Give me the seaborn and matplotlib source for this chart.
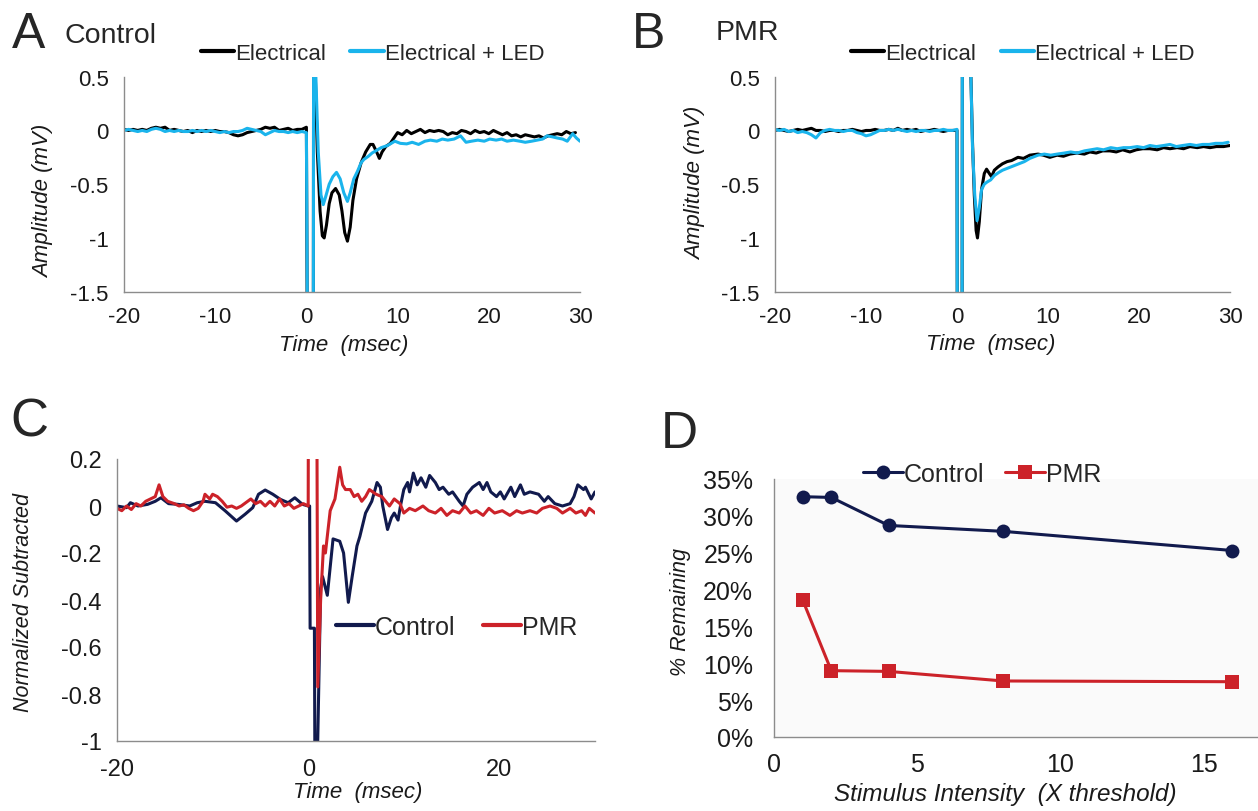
import matplotlib
matplotlib.use("Agg")
import matplotlib.pyplot as plt
import seaborn as sns
import pandas as pd
import numpy as np
from matplotlib.ticker import FuncFormatter

# ---------------- DATA ----------------
# Panel A (Control) - Electrical (black)
a_elec_t = [-20,-19.5,-19,-18.5,-18,-17.5,-17,-16.5,-16,-15.5,-15,-14.5,-14,-13.5,-13,-12.5,-12,-11.5,-11,-10.5,
            -10,-9.5,-9,-8.5,-8,-7.5,-7,-6.5,-6,-5.5,-5,-4.5,-4,-3.5,-3,-2.5,-2,-1.5,-1,-0.5,0,
            0.15,0.75,0.8,0.95,1.2,1.5,1.75,1.95,2.2,2.5,2.8,3.2,3.6,3.9,4.2,4.5,4.8,5.1,5.5,6.0,6.5,7.0,7.3,7.7,8.0,
            8.3,8.7,9.2,9.6,10.0,10.5,11.0,11.5,12.0,12.5,13.0,13.5,14.0,14.5,15.0,15.5,16.0,16.5,17.0,17.5,18.0,
            18.5,19.0,19.5,20.0,20.5,21.0,21.5,22.0,22.5,23.0,23.5,24.0,24.5,25.0,25.5,26.0,26.5,27.0,27.5,28.0,
            28.5,29.0,29.5]
a_elec_v = [0.01,0.0,0.01,0.0,0.01,0.0,0.02,0.03,0.02,0.03,0.0,0.01,0.0,-0.01,0.0,-0.02,0.0,-0.01,0.0,-0.01,
            0.0,-0.01,-0.01,-0.02,-0.04,-0.05,-0.04,-0.02,-0.01,0.0,0.01,0.03,0.02,0.03,0.0,0.01,0.02,0.0,0.01,0.01,0.03,
            -3.0,-3.0,2.0,0.6,-0.2,-0.75,-0.98,-1.0,-0.88,-0.68,-0.58,-0.54,-0.6,-0.75,-0.95,-1.03,-0.9,-0.65,-0.45,-0.3,-0.2,-0.13,-0.13,-0.2,-0.26,
            -0.2,-0.15,-0.12,-0.07,-0.02,-0.04,0.0,-0.03,-0.01,0.01,-0.02,0.0,-0.01,0.0,-0.01,-0.04,-0.02,-0.03,0.0,-0.01,-0.03,
            0.0,-0.02,-0.01,-0.03,0.0,-0.02,-0.04,-0.02,-0.05,-0.04,-0.06,-0.04,-0.05,-0.06,-0.05,-0.07,-0.05,-0.04,-0.03,-0.04,
            -0.01,-0.03,-0.02]
# Panel A (Control) - Electrical + LED (blue)
a_led_t = [-20,-19.5,-19,-18.5,-18,-17.5,-17,-16.5,-16,-15.5,-15,-14.5,-14,-13.5,-13,-12.5,-12,-11.5,-11,-10.5,
           -10,-9.5,-9,-8.5,-8,-7.5,-7,-6.5,-6,-5.5,-5,-4.5,-4,-3.5,-3,-2.5,-2,-1.5,-1,-0.5,0,
           0.18,0.75,0.8,1.0,1.3,1.6,1.85,2.1,2.5,2.9,3.3,3.7,4.1,4.5,4.8,5.2,5.6,6.0,6.3,6.8,7.2,7.6,8.2,8.9,9.7,
           10.3,11.0,11.6,12.3,13.0,13.6,14.3,14.9,15.5,16.2,16.9,17.5,18.1,18.8,19.5,20.1,20.8,21.4,22.0,22.7,
           23.4,24.0,24.7,25.3,25.9,26.4,27.0,27.5,28.1,28.6,29.2,29.6,30.0]
a_led_v = [0.0,0.01,0.0,-0.01,0.0,-0.01,0.01,0.02,0.01,-0.01,0.0,-0.01,0.0,-0.01,-0.01,0.0,-0.01,0.0,-0.01,0.0,
           -0.01,-0.02,-0.01,-0.02,-0.01,-0.01,0.0,0.02,0.01,0.0,-0.01,-0.04,-0.02,0.0,-0.01,-0.01,-0.02,-0.01,-0.02,-0.01,-0.02,
           -3.0,-3.0,2.0,0.6,-0.2,-0.6,-0.69,-0.62,-0.5,-0.43,-0.39,-0.45,-0.58,-0.66,-0.58,-0.45,-0.38,-0.3,-0.27,-0.24,-0.21,-0.19,-0.16,-0.14,-0.1,
           -0.12,-0.125,-0.11,-0.13,-0.1,-0.09,-0.1,-0.08,-0.09,-0.08,-0.05,-0.11,-0.1,-0.09,-0.1,-0.08,-0.09,-0.08,-0.1,-0.09,
           -0.1,-0.11,-0.1,-0.09,-0.08,-0.05,-0.06,-0.07,-0.08,-0.1,-0.03,-0.07,-0.1]

# Panel B (PMR) - Electrical (black)
b_base_t = [-20,-19.5,-19,-18.5,-18,-17.5,-17,-16.5,-16,-15.5,-15,-14.5,-14,-13.5,-13,-12.5,-12,-11.5,-11,-10.5,
            -10,-9.5,-9,-8.5,-8,-7.5,-7,-6.5,-6,-5.5,-5,-4.5,-4,-3.5,-3,-2.5,-2,-1.5,-1,-0.5,0]
b_elec_t = b_base_t + [0.05,0.55,0.6,1.3,1.5,1.7,1.9,2.1,2.25,2.45,2.7,3.0,3.25,3.55,3.8,4.1,4.5,5.0,5.5,6.0,6.7,7.3,8.0,
            8.9,9.5,10.2,11.0,11.7,12.4,13.2,14.0,14.6,15.3,16.0,16.8,17.5,18.2,19.0,19.7,20.4,21.2,22.0,22.7,23.4,
            24.2,24.9,25.6,26.4,27.1,27.8,28.5,29.3,30.0]
b_elec_v = [0.0,0.01,0.0,-0.01,0.0,0.01,0.0,0.01,0.02,0.0,0.0,-0.01,0.0,0.0,-0.01,0.0,0.0,0.01,0.0,-0.01,
            0.0,0.0,0.01,0.0,0.0,0.01,0.0,0.02,0.0,0.01,0.0,0.01,-0.01,0.0,0.0,0.01,0.0,-0.01,0.0,0.0,0.0,
            -3.0,-3.0,2.0,2.0,0.6,-0.1,-0.6,-0.93,-1.0,-0.85,-0.55,-0.4,-0.36,-0.4,-0.43,-0.37,-0.34,-0.31,-0.29,-0.28,-0.25,-0.26,-0.23,
            -0.22,-0.23,-0.25,-0.23,-0.24,-0.22,-0.21,-0.22,-0.2,-0.21,-0.19,-0.19,-0.2,-0.18,-0.2,-0.18,-0.17,-0.17,-0.18,-0.16,-0.17,
            -0.16,-0.17,-0.15,-0.16,-0.15,-0.16,-0.15,-0.15,-0.14]
# Panel B (PMR) - Electrical + LED (blue)
b_led_t = b_base_t + [0.05,0.55,0.6,1.3,1.5,1.7,1.95,2.2,2.45,2.7,3.0,3.3,3.7,4.1,4.6,5.0,5.6,6.2,6.8,7.4,8.0,8.9,9.6,
           10.3,11.0,11.8,12.5,13.2,14.0,14.7,15.4,16.1,16.9,17.6,18.3,19.0,19.8,20.5,21.2,21.9,22.7,23.4,24.1,
           24.8,25.6,26.3,27.0,27.7,28.4,29.2,29.8]
b_led_v = [0.01,0.0,0.01,-0.01,0.0,-0.02,-0.01,-0.02,-0.04,-0.07,-0.02,0.0,0.01,0.0,0.0,-0.01,0.0,0.0,-0.02,-0.03,
           -0.05,-0.04,-0.02,0.0,0.0,0.01,0.0,0.01,0.0,-0.01,0.0,-0.01,0.0,0.0,-0.01,0.0,0.0,0.01,0.0,0.0,0.01,
           -3.0,-3.0,2.0,2.0,0.6,-0.15,-0.6,-0.84,-0.72,-0.55,-0.5,-0.48,-0.46,-0.42,-0.39,-0.37,-0.35,-0.33,-0.31,-0.29,-0.26,-0.23,-0.22,
           -0.23,-0.22,-0.21,-0.2,-0.21,-0.19,-0.18,-0.17,-0.18,-0.16,-0.17,-0.16,-0.16,-0.15,-0.16,-0.14,-0.15,-0.14,-0.13,-0.15,
           -0.14,-0.13,-0.14,-0.13,-0.13,-0.12,-0.12,-0.11]

# Panel C - normalized subtracted
c_ctrl_t = [-20,-19.0,-18.6,-17.8,-16.8,-16.0,-15.4,-14.6,-13.6,-12.4,-11.6,-10.8,-9.7,-8.7,-7.5,-6.6,-5.8,-5.2,-4.5,-3.7,
            -2.9,-2.1,-1.4,-0.6,0.0,0.15,0.2,0.65,0.7,0.95,1.3,1.5,2.0,2.6,3.3,3.7,4.2,4.6,5.1,5.4,6.0,6.65,7.2,7.55,7.8,
            8.3,8.7,9.0,9.4,9.65,10.0,10.4,10.6,11.0,11.4,11.8,12.3,12.7,13.3,13.7,14.1,14.7,15.1,15.8,16.2,16.6,17.2,
            17.9,18.3,18.7,19.1,19.7,20.1,20.5,21.2,21.6,22.2,22.6,23.2,24.1,24.7,25.1,25.8,26.6,27.4,27.8,28.2,28.8,
            29.0,29.6,30.0]
c_ctrl_v = [0.0,-0.007,0.014,0.0,0.007,0.02,0.035,0.01,0.007,0.0,0.014,0.02,0.014,-0.02,-0.064,-0.035,-0.007,0.05,0.068,0.05,
            0.028,0.014,0.035,0.007,0.0,0.0,-0.52,-0.52,-1.1,-1.1,-0.35,-0.3,-0.38,-0.14,-0.15,-0.2,-0.41,-0.3,-0.17,-0.13,-0.03,0.02,0.1,0.08,0.0,
            -0.1,-0.05,-0.03,-0.06,0.0,0.07,0.1,0.06,0.14,0.09,0.12,0.08,0.13,0.1,0.07,0.08,0.05,0.06,0.02,0.0,0.05,0.08,
            0.1,0.07,0.1,0.06,0.04,0.06,0.03,0.08,0.04,0.09,0.05,0.06,0.05,0.02,0.04,0.01,0.0,0.01,0.04,0.09,0.07,
            0.08,0.03,0.06]
c_pmr_t = [-20,-19.5,-19,-18.5,-18,-17.5,-17,-16.5,-16,-15.6,-15.2,-14.7,-14,-13.5,-13,-12.5,-12,-11.5,-11,-10.8,
           -10.3,-10,-9.5,-9,-8.5,-8,-7.5,-7,-6.5,-6,-5.5,-5,-4.5,-4,-3.5,-3,-2.5,-2,-1.5,-1,-0.5,0,
           0.02,0.9,1.0,1.3,1.6,1.8,2.3,2.8,3.3,3.6,3.9,4.4,4.8,5.2,5.6,6.0,6.4,7.1,7.7,8.1,8.5,9.0,9.6,10.0,10.6,11.2,
           12.0,12.6,13.3,13.9,14.5,15.1,15.8,16.4,17.0,17.6,18.3,18.9,19.5,20.3,21.1,21.8,22.4,23.2,23.9,24.5,25.3,
           26.0,26.6,27.4,28.0,28.6,29.0,29.4,30.0]
c_pmr_v = [-0.01,-0.02,0.0,-0.015,0.01,0.0,0.02,0.03,0.04,0.09,0.04,0.02,0.01,0.0,0.005,-0.01,-0.02,-0.01,0.02,0.05,
           0.03,0.05,0.04,0.02,-0.005,0.0,-0.01,0.0,0.015,0.03,0.01,0.02,0.0,0.02,0.0,0.03,0.0,0.01,-0.01,0.0,0.01,0.0,
           0.5,0.5,-0.77,-0.4,-0.17,-0.2,-0.02,0.03,0.165,0.09,0.07,0.07,0.04,0.05,0.02,0.04,0.07,0.05,0.04,0.02,0.0,0.03,0.01,-0.03,-0.01,-0.02,
           0.0,-0.02,-0.03,-0.01,-0.04,-0.02,-0.03,0.0,-0.03,-0.02,-0.04,-0.01,-0.03,-0.02,-0.04,-0.02,-0.03,-0.02,-0.03,-0.01,0.0,
           -0.01,-0.03,-0.01,-0.03,-0.02,-0.04,-0.01,-0.03]

# Panel D - % remaining vs stimulus intensity
d_intensity = [1, 2, 4, 8, 16]
d_control = [32.6, 32.5, 28.7, 27.9, 25.3]
d_pmr = [18.6, 9.0, 8.9, 7.6, 7.5]

# ---------------- STYLE ----------------
sns.set_style("white")
plt.rcParams['font.family'] = ['Liberation Sans', 'DejaVu Sans']
plt.rcParams['axes.unicode_minus'] = False

BLACK = "#000000"
BLUE = "#1ab4ec"
NAVY = "#111a4d"
RED = "#cc2229"
SPINE = "#8c8c8c"
TXT = "#1a1a1a"

W, H = 1258, 812
fig = plt.figure(figsize=(W / 100, H / 100), dpi=100)

def ax_px(l, r, t, b):
    return fig.add_axes([l / W, 1 - b / H, (r - l) / W, (b - t) / H])

axA = ax_px(124, 580, 77.7, 292.7)
axB = ax_px(775, 1230, 77.7, 292.7)
axC = ax_px(117, 595, 460, 742)
axD = ax_px(774, 1258, 480, 738)

def style_axes(ax, fs, xpad=5, ypad=6):
    for s in ["top", "right"]:
        ax.spines[s].set_visible(False)
    for s in ["left", "bottom"]:
        ax.spines[s].set_color(SPINE)
        ax.spines[s].set_linewidth(1.0)
    ax.tick_params(axis="both", which="both", direction="out", length=5, width=1,
                   color=SPINE, labelsize=fs, labelcolor=TXT)
    ax.tick_params(axis="x", pad=xpad)
    ax.tick_params(axis="y", pad=ypad)
    ax.grid(False)

def trace_df(t, v, name):
    return pd.DataFrame({"t": t, "v": v, "series": name})

# ---- Panel A ----
dfA = pd.concat([trace_df(a_elec_t, a_elec_v, "Electrical"),
                 trace_df(a_led_t, a_led_v, "Electrical + LED")])
sns.lineplot(data=dfA, x="t", y="v", hue="series", palette=[BLACK, BLUE],
             estimator=None, sort=False, linewidth=2.2, ax=axA)
# ---- Panel B ----
dfB = pd.concat([trace_df(b_elec_t, b_elec_v, "Electrical"),
                 trace_df(b_led_t, b_led_v, "Electrical + LED")])
sns.lineplot(data=dfB, x="t", y="v", hue="series", palette=[BLACK, BLUE],
             estimator=None, sort=False, linewidth=2.2, ax=axB)

for ax, lx in [(axA, 0.545), (axB, 0.545)]:
    ax.set_xlim(-20, 30)
    ax.set_ylim(-1.5, 0.5)
    ax.set_xticks([-20, -10, 0, 10, 20, 30])
    ax.set_yticks([0.5, 0, -0.5, -1, -1.5])
    ax.set_yticklabels(["0.5", "0", "-0.5", "-1", "-1.5"])
    style_axes(ax, 16)
    ax.set_xlabel("Time  (msec)", fontsize=16, style="italic", color=TXT)
    ax.set_ylabel("Amplitude (mV)", fontsize=16, style="italic", color=TXT)
    leg = ax.legend(loc="center", bbox_to_anchor=(lx, 1.108), ncol=2, frameon=False,
                    fontsize=16, handlelength=1.5, handletextpad=0.05, columnspacing=1.1,
                    borderaxespad=0)
    for line in leg.get_lines():
        line.set_linewidth(3)

axA.xaxis.set_label_coords(0.482, -0.197)
axA.yaxis.set_label_coords(-0.154, 0.426)
axB.xaxis.set_label_coords(0.473, -0.19)
axB.yaxis.set_label_coords(-0.152, 0.508)

# ---- Panel C ----
dfC = pd.concat([trace_df(c_ctrl_t, c_ctrl_v, "Control"),
                 trace_df(c_pmr_t, c_pmr_v, "PMR")])
sns.lineplot(data=dfC, x="t", y="v", hue="series", palette=[NAVY, RED],
             estimator=None, sort=False, linewidth=2.2, ax=axC)
axC.set_xlim(-20, 30)
axC.set_ylim(-1, 0.2)
axC.set_xticks([-20, 0, 20])
axC.set_yticks([0.2, 0, -0.2, -0.4, -0.6, -0.8, -1])
axC.set_yticklabels(["0.2", "0", "-0.2", "-0.4", "-0.6", "-0.8", "-1"])
style_axes(axC, 17, xpad=7)
axC.set_xlabel("Time  (msec)", fontsize=16, style="italic", color=TXT)
axC.set_ylabel("Normalized Subtracted", fontsize=15.5, style="italic", color=TXT)
axC.xaxis.set_label_coords(0.504, -0.142)
axC.yaxis.set_label_coords(-0.174, 0.496)
legC = axC.legend(loc="center", bbox_to_anchor=(0.711, 0.404), ncol=2, frameon=False,
                  fontsize=18, handlelength=1.5, handletextpad=0.05, columnspacing=1.1,
                  borderaxespad=0)
for line in legC.get_lines():
    line.set_linewidth(3)

# ---- Panel D ----
dfD = pd.concat([pd.DataFrame({"x": d_intensity, "y": d_control, "series": "Control"}),
                 pd.DataFrame({"x": d_intensity, "y": d_pmr, "series": "PMR"})])
sns.lineplot(data=dfD, x="x", y="y", hue="series", style="series",
             palette=[NAVY, RED], markers=["o", "s"], dashes=False,
             markersize=10, markeredgewidth=0, linewidth=2.2, ax=axD)
axD.set_facecolor("#fafafa")
axD.set_xlim(0, 16.9)
axD.set_ylim(0, 35)
axD.set_xticks([0, 5, 10, 15])
axD.set_yticks([0, 5, 10, 15, 20, 25, 30, 35])
axD.yaxis.set_major_formatter(FuncFormatter(lambda v, p: f"{v:.0f}%"))
style_axes(axD, 18, xpad=6, ypad=10)
axD.set_xlabel("Stimulus Intensity  (X threshold)", fontsize=17.5, style="italic", color=TXT)
axD.set_ylabel("% Remaining", fontsize=15.5, style="italic", color=TXT)
axD.xaxis.set_label_coords(0.477, -0.176)
axD.yaxis.set_label_coords(-0.171, 0.488)
legD = axD.legend(loc="center", bbox_to_anchor=(0.43, 1.019), ncol=2, frameon=False,
                  fontsize=18, handlelength=1.6, handletextpad=0.05, columnspacing=0.8,
                  borderaxespad=0)

# ---- Panel letters & titles ----
fig.text(12 / W, 1 - 48 / H, "A", fontsize=36, va="baseline", ha="left")
fig.text(64 / W, 1 - 43 / H, "Control", fontsize=20.5, va="baseline", ha="left")
fig.text(632 / W, 1 - 48 / H, "B", fontsize=36, va="baseline", ha="left")
fig.text(716 / W, 1 - 40 / H, "PMR", fontsize=20.5, va="baseline", ha="left")
fig.text(10 / W, 1 - 437 / H, "C", fontsize=38, va="baseline", ha="left")
fig.text(661 / W, 1 - 448 / H, "D", fontsize=37, va="baseline", ha="left")

fig.savefig("out.png", dpi=100)
